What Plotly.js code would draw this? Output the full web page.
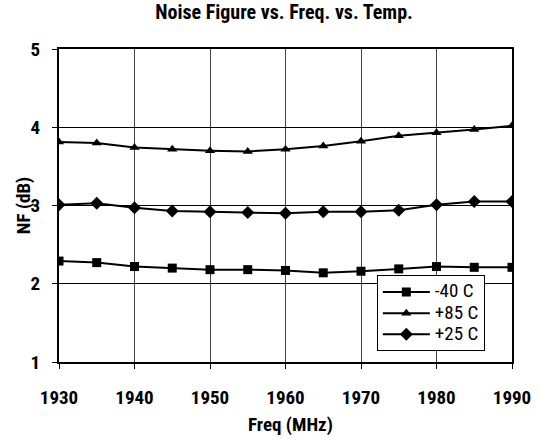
<!DOCTYPE html>
<html>
<head>
<meta charset="utf-8">
<script src="https://cdn.plot.ly/plotly-3.0.1.min.js"></script>
<style>html,body{margin:0;padding:0;background:#fff;}</style>
</head>
<body>
<div id="chart" style="width:539px;height:440px;"></div>
<script>
var freq = [1930, 1935, 1940, 1945, 1950, 1955, 1960, 1965, 1970, 1975, 1980, 1985, 1990];
var nfMinus40 = [2.29, 2.27, 2.22, 2.20, 2.18, 2.18, 2.17, 2.14, 2.16, 2.19, 2.22, 2.21, 2.21];
var nfPlus85 = [3.81, 3.80, 3.74, 3.72, 3.70, 3.69, 3.72, 3.76, 3.82, 3.89, 3.93, 3.97, 4.02];
var nfPlus25 = [3.01, 3.03, 2.97, 2.93, 2.92, 2.91, 2.90, 2.92, 2.92, 2.94, 3.01, 3.05, 3.05];
var seriesNames = ['-40 C', '+85 C', '+25 C'];

var FONT = '"Roboto Condensed", "Arial Narrow", "Liberation Sans Narrow", sans-serif';

function mk(y, name, symbol, size) {
  return {
    x: freq, y: y, name: '<span style="font-size:19px">' + name + '</span>',
    type: 'scatter', mode: 'lines+markers',
    line: {color: '#000', width: 2},
    marker: {symbol: symbol, size: size, color: '#000'}
  };
}

var data = [
  mk(nfMinus40, seriesNames[0], 'square', 9),
  mk(nfPlus85, seriesNames[1], 'triangle-up', 9),
  mk(nfPlus25, seriesNames[2], 'diamond', 10)
];

var layout = {
  width: 539, height: 440,
  margin: {l: 59, r: 27, t: 49, b: 78},
  paper_bgcolor: '#fff', plot_bgcolor: '#fff',
  font: {family: FONT, color: '#000'},
  title: {text: '<b>Noise Figure vs. Freq. vs. Temp.</b>', x: 0.527, xanchor: 'center', y: 0.973, yanchor: 'middle', font: {size: 20, family: FONT}},
  xaxis: {
    range: [1930, 1990], dtick: 10, tick0: 1930,
    showgrid: true, gridcolor: '#444', gridwidth: 1,
    showline: true, mirror: true, linecolor: '#000', linewidth: 2,
    ticks: 'outside', ticklen: 5, tickcolor: '#000',
    tickfont: {size: 19, family: FONT, weight: 'bold'},
    ticklabelstandoff: 12,
    zeroline: false
  },
  yaxis: {
    range: [1, 5], dtick: 1,
    showgrid: true, gridcolor: '#000', gridwidth: 1,
    showline: true, mirror: true, linecolor: '#000', linewidth: 2,
    ticks: 'outside', ticklen: 5, tickcolor: '#000',
    tickfont: {size: 19, family: FONT, weight: 'bold'},
    ticklabelstandoff: 8,
    zeroline: false
  },
  annotations: [
    {text: '<b>Freq (MHz)</b>', xref: 'paper', yref: 'paper', x: 0.51, y: -0.199,
     xanchor: 'center', yanchor: 'middle', showarrow: false, font: {size: 19, family: FONT}},
    {text: '<b>NF (dB)</b>', xref: 'paper', yref: 'paper', x: -0.078, y: 0.5, textangle: -90,
     xanchor: 'center', yanchor: 'middle', showarrow: false, font: {size: 19, family: FONT}}
  ],
  showlegend: true,
  legend: {
    x: 0.94, y: 0.034, xanchor: 'right', yanchor: 'bottom',
    bgcolor: '#fff', bordercolor: '#000', borderwidth: 1,
    font: {size: 14, family: FONT},
    itemwidth: 47,
    tracegroupgap: 0
  }
};

Plotly.newPlot('chart', data, layout, {displayModeBar: false, staticPlot: true});
</script>
</body>
</html>
